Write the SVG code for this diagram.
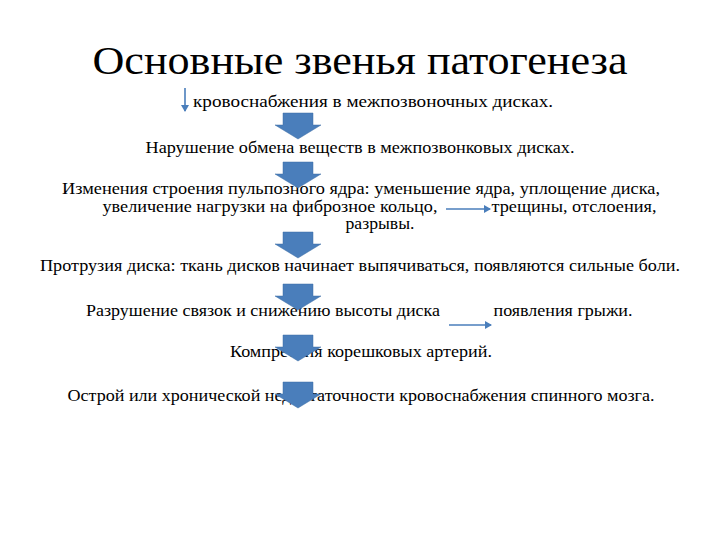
<svg xmlns="http://www.w3.org/2000/svg" width="720" height="540" viewBox="0 0 720 540">
<defs>
<style>
text{font-family:"Liberation Serif","Times New Roman","DejaVu Serif","Noto Serif",serif;fill:#000}
.t{font-size:16.5px;text-anchor:middle}
.ba{fill:#4a7ebb;stroke:#3f6ea5;stroke-width:0.5}
.ln{stroke:#4a7ebb;stroke-width:1.6;fill:none}
</style>
<marker id="ah" markerWidth="8" markerHeight="8" refX="6" refY="4" orient="auto" markerUnits="userSpaceOnUse"><path d="M0,0 L7,4 L0,8 z" fill="#4a7ebb"/></marker>
<path id="blk" d="M-15,0 H15 V12 H23 L0,26 L-23,12 H-15 Z"/>
</defs>
<rect width="720" height="540" fill="#fff"/>
<g id="title"><text x="360" y="74" font-size="40" text-anchor="middle" textLength="535" lengthAdjust="spacingAndGlyphs">Основные звенья патогенеза</text></g>
<g id="n1"><text class="t" x="373" y="107" textLength="360" lengthAdjust="spacingAndGlyphs">кровоснабжения в межпозвоночных дисках.</text></g>
<g id="n2"><text class="t" x="360" y="153" textLength="429" lengthAdjust="spacingAndGlyphs">Нарушение обмена веществ в межпозвонковых дисках.</text></g>
<g id="n3"><text class="t" x="361" y="194" textLength="598" lengthAdjust="spacingAndGlyphs">Изменения строения  пульпозного ядра: уменьшение ядра, уплощение диска,</text>
<text class="t" x="270" y="212" textLength="335" lengthAdjust="spacingAndGlyphs">увеличение нагрузки на фиброзное кольцо,</text>
<text class="t" x="574" y="212" textLength="165" lengthAdjust="spacingAndGlyphs">трещины, отслоения,</text>
<text class="t" x="380" y="229" textLength="69" lengthAdjust="spacingAndGlyphs">разрывы.</text></g>
<g id="n4"><text class="t" x="360" y="271" textLength="640" lengthAdjust="spacingAndGlyphs">Протрузия диска: ткань дисков начинает выпячиваться, появляются сильные боли.</text></g>
<g id="n5"><text class="t" x="263" y="316" textLength="354" lengthAdjust="spacingAndGlyphs">Разрушение связок и снижению высоты диска</text>
<text class="t" x="563" y="316" textLength="139" lengthAdjust="spacingAndGlyphs">появления грыжи.</text></g>
<g id="n6"><text class="t" x="361" y="357" textLength="262" lengthAdjust="spacingAndGlyphs">Компрессия корешковых артерий.</text></g>
<g id="n7"><text class="t" x="361" y="401" textLength="587" lengthAdjust="spacingAndGlyphs">Острой или хронической недостаточности кровоснабжения спинного мозга.</text></g>
<g id="connectors">
<line class="ln" x1="185" y1="88" x2="185" y2="111" marker-end="url(#ah)"/>
<line class="ln" x1="446" y1="209" x2="490" y2="209" marker-end="url(#ah)"/>
<line class="ln" x1="449" y1="325" x2="491" y2="325" marker-end="url(#ah)"/>
<use href="#blk" class="ba" x="298" y="113"/>
<use href="#blk" class="ba" x="298" y="162"/>
<use href="#blk" class="ba" x="298" y="232"/>
<use href="#blk" class="ba" x="298" y="284"/>
<use href="#blk" class="ba" x="298" y="335"/>
<use href="#blk" class="ba" x="298" y="382"/>
</g>
</svg>
